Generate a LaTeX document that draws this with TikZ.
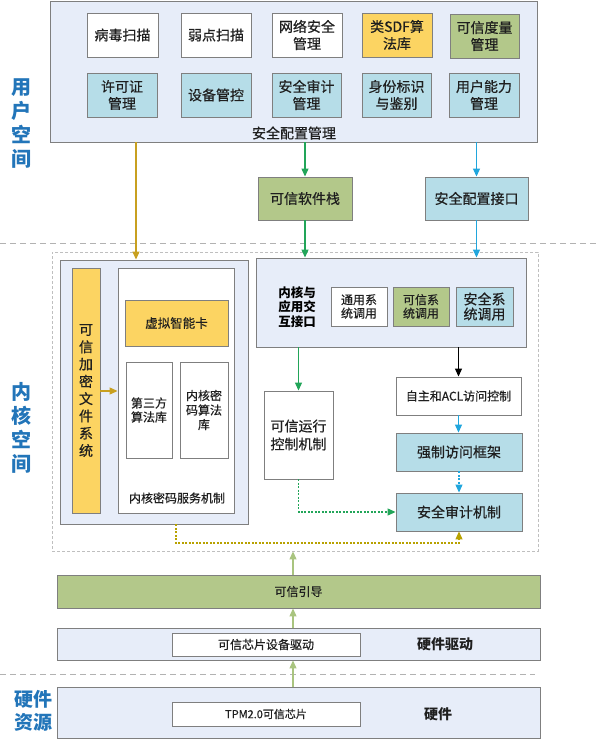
\documentclass[tikz,border=0pt]{standalone}
\usepackage{fontspec}
\setmainfont{Liberation Serif}
\newfontfamily\cjk{Noto Sans CJK SC}[FakeBold=0.5]
\newfontfamily\cjkb{Noto Sans CJK SC}
\usetikzlibrary{arrows.meta}
\definecolor{lav}{HTML}{E7EDF9}
\definecolor{yel}{HTML}{FCD462}
\definecolor{grn}{HTML}{B3C88A}
\definecolor{lblue}{HTML}{B6DDE8}
\definecolor{bgray}{HTML}{7F7F7F}
\definecolor{sideblue}{HTML}{2275B9}
\definecolor{agreen}{HTML}{22A559}
\definecolor{ablue}{HTML}{20A6DD}
\definecolor{agold}{HTML}{C8A020}
\definecolor{alg}{HTML}{A9C47F}
\definecolor{dgold}{HTML}{B8A200}
\tikzset{
  bx/.style={draw=bgray, line width=0.9pt, inner sep=0pt, align=center, text=black!88},
  tf/.style 2 args={font=\cjk\fontsize{#1}{#2}\selectfont},
  tfb/.style 2 args={font=\cjkb\bfseries\fontsize{#1}{#2}\selectfont},
  sidelbl/.style={text=sideblue, align=center},
  arr/.style={line width=1.1pt, -{Triangle[length=8pt,width=7pt]}},
  garrow/.style={arr, draw=agreen},
  barrow/.style={arr, draw=ablue},
  karrow/.style={arr, draw=black},
  goldarrow/.style={arr, draw=agold},
  lgarrow/.style={arr, draw=alg},
  sepline/.style={draw=gray!60, line width=1pt, dash pattern=on 6pt off 4pt},
}
\begin{document}
\begin{tikzpicture}[x=1pt,y=-1pt]
\useasboundingbox (0,0) rectangle (600,742);
\fill[white] (0,0) rectangle (600,742);

% ---------- user space ----------
\node[sidelbl, tfb={20}{24}] (ulbl) at (21,124) {用\\户\\空\\间};
\node[bx, fill=lav, minimum width=487, minimum height=141] (usr) at (293.5,71.5) {};
\node[bx, tf={14}{17}, fill=white, minimum width=71, minimum height=44] (b1) at (122.5,35) {病毒扫描};
\node[bx, tf={14}{17}, fill=white, minimum width=70, minimum height=44] (b2) at (216,35) {弱点扫描};
\node[bx, tf={14}{17}, fill=white, minimum width=70, minimum height=44] (b3) at (307,35) {网络安全\\管理};
\node[bx, tf={14}{17}, fill=yel, minimum width=70, minimum height=44] (b4) at (397,35) {类SDF算\\法库};
\node[bx, tf={14}{17}, fill=grn, minimum width=69, minimum height=44] (b5) at (484.5,36) {可信度量\\管理};
\node[bx, tf={14}{17}, fill=lblue, minimum width=70, minimum height=44] (c1) at (122,95) {许可证\\管理};
\node[bx, tf={14}{17}, fill=lblue, minimum width=70, minimum height=44] (c2) at (216,95) {设备管控};
\node[bx, tf={14}{17}, fill=lblue, minimum width=69, minimum height=44] (c3) at (306.5,95) {安全审计\\管理};
\node[bx, tf={14}{17}, fill=lblue, minimum width=69, minimum height=44] (c4) at (396.5,95) {身份标识\\与鉴别};
\node[bx, tf={14}{17}, fill=lblue, minimum width=70, minimum height=44] (c5) at (484,95) {用户能力\\管理};
\node[tf={14}{17}, text=black!88] (uml) at (294,133) {安全配置管理};

\node[bx, tf={14}{17}, fill=grn, minimum width=94, minimum height=43] (sw) at (305,198.5) {可信软件栈};
\node[bx, tf={14}{17}, fill=lblue, minimum width=103, minimum height=43] (sc) at (476.5,198.5) {安全配置接口};

\draw[sepline] (0,243) -- (600,243);

% ---------- kernel space ----------
\node[sidelbl, tfb={20}{24}] (klbl) at (21,428) {内\\核\\空\\间};
\node[draw=gray!50, line width=0.8pt, dash pattern=on 3pt off 2pt, minimum width=486, minimum height=299, inner sep=0pt] (kern) at (295,401.5) {};

\node[bx, fill=lav, minimum width=188, minimum height=264] (kl) at (154,392) {};
\node[bx, fill=yel, minimum width=28, minimum height=245, tf={14}{17.3}] (yb) at (86,390.5) {可\\信\\加\\密\\文\\件\\系\\统};
\node[bx, fill=white, minimum width=116, minimum height=245] (ws) at (176,390.5) {};
\node[bx, tf={12.5}{15}, fill=yel, minimum width=103, minimum height=46] (vc) at (176.5,323) {虚拟智能卡};
\node[bx, tf={12}{14}, fill=white, minimum width=46, minimum height=96] (t3) at (149,410) {第三方\\算法库};
\node[bx, tf={12}{14.5}, fill=white, minimum width=48, minimum height=96] (kc) at (204,410) {内核密\\码算法\\库};
\node[tf={12}{14}, text=black!88] (kcl) at (177,498) {内核密码服务机制};

\node[bx, fill=lav, minimum width=270, minimum height=89] (ki) at (391,302.5) {};
\node[tfb={12.5}{14.5}, align=center] (kil) at (297,307) {内核与\\应用交\\互接口};
\node[bx, tf={12}{13.5}, fill=white, minimum width=56, minimum height=39] (g1) at (359,306.5) {通用系\\统调用};
\node[bx, tf={12}{13.5}, fill=grn, minimum width=56, minimum height=39] (g2) at (421,306.5) {可信系\\统调用};
\node[bx, tf={14}{15}, fill=lblue, minimum width=57, minimum height=39] (g3) at (484.5,306.5) {安全系\\统调用};

\node[bx, tf={14}{18}, fill=white, minimum width=69, minimum height=88] (tr) at (298.5,435) {可信运行\\控制机制};
\node[bx, tf={12}{14}, fill=white, minimum width=125, minimum height=38] (acl) at (458.5,396) {自主和ACL访问控制};
\node[bx, tf={14}{17}, fill=lblue, minimum width=126, minimum height=38] (maf) at (459,452) {强制访问框架};
\node[bx, tf={14}{17}, fill=lblue, minimum width=126, minimum height=38] (aud) at (459,512) {安全审计机制};

% ---------- bottom layers ----------
\node[bx, tf={12}{14}, fill=grn, minimum width=483, minimum height=33] (tb) at (298.5,591.5) {可信引导};
\node[bx, fill=lav, minimum width=483, minimum height=32] (hd) at (298.5,644) {};
\node[bx, tf={12}{14}, fill=white, minimum width=188, minimum height=23] (cd) at (266,644.5) {可信芯片设备驱动};
\node[tfb={14}{17}, text=black!88] (hdl) at (445,644.5) {硬件驱动};

\draw[sepline] (0,674) -- (535,674);

\node[sidelbl, tfb={19}{23}] (hlbl) at (34,711) {硬件\\资源};
\node[bx, fill=lav, minimum width=483, minimum height=51] (hw) at (298.5,712.5) {};
\node[bx, tf={11}{13}, fill=white, minimum width=188, minimum height=24] (tpm) at (266,714) {TPM2.0可信芯片};
\node[tfb={14}{17}, text=black!88] (hwl) at (438,714) {硬件};

% ---------- connectors ----------
\draw[goldarrow] (136,0 |- usr.south) -- (136,0 |- kl.north);
\draw[garrow] (sw.north |- usr.south) -- (sw.north);
\draw[garrow] (sw.south) -- (sw.south |- ki.north);
\draw[barrow] (sc.north |- usr.south) -- (sc.north);
\draw[barrow] (sc.south) -- (sc.south |- ki.north);
\draw[goldarrow] (yb.east |- 0,391) -- (ws.west |- 0,391);
\draw[garrow] (tr.north |- ki.south) -- (tr.north);
\draw[karrow] (acl.north |- ki.south) -- (acl.north);
\draw[barrow] (acl.south) -- (acl.south |- maf.north);
\draw[barrow, dash pattern=on 2pt off 1.5pt] (maf.south) -- (aud.north);
\draw[garrow, dash pattern=on 2pt off 1.5pt] (tr.south) |- (aud.west);
\draw[goldarrow, draw=dgold, dash pattern=on 2pt off 1.5pt] (176,0 |- kl.south) -- (176,543) -| (aud.south);
\draw[lgarrow] (293,0 |- tb.north) -- (293,0 |- kern.south);
\draw[lgarrow] (293,0 |- hd.north) -- (293,0 |- tb.south);
\draw[lgarrow] (293,0 |- hw.north) -- (293,0 |- hd.south);
\end{tikzpicture}
\end{document}
